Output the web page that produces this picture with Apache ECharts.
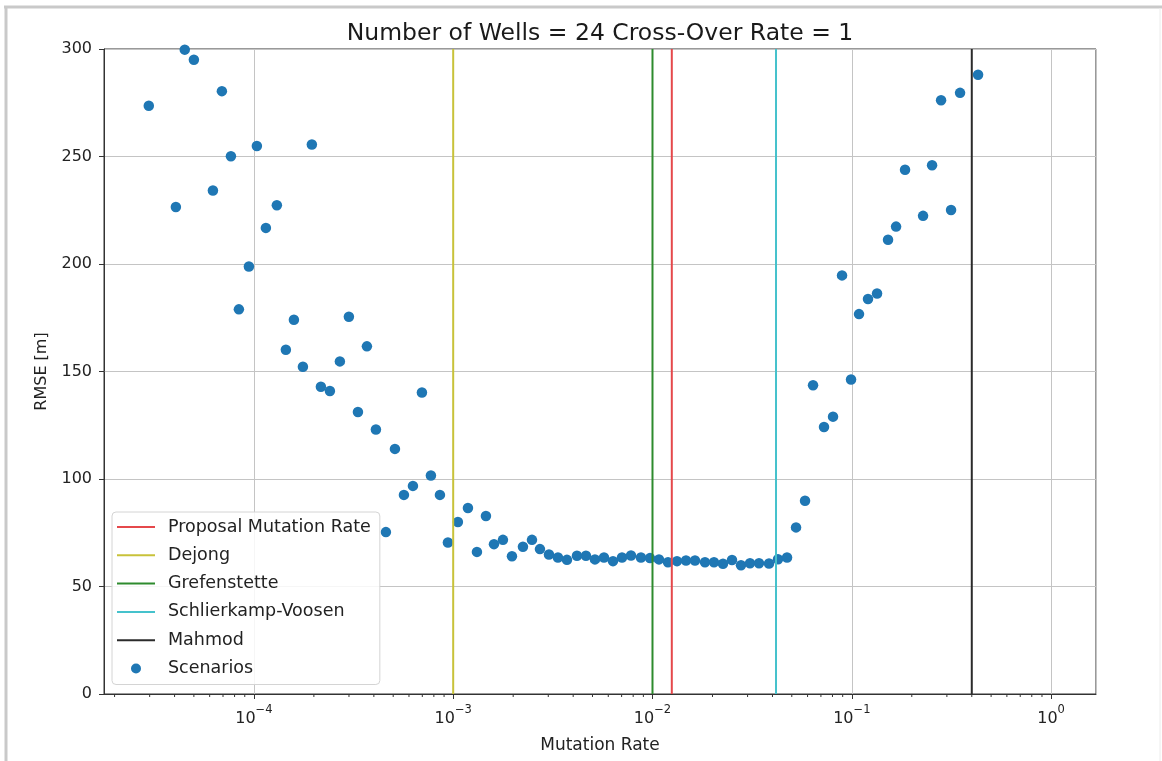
<!DOCTYPE html>
<html>
<head>
<meta charset="utf-8">
<style>html,body{margin:0;padding:0;background:#fff;}#main{width:1162px;height:761px;}</style>
<script src="https://cdn.jsdelivr.net/npm/echarts@6/dist/echarts.min.js"></script>
</head>
<body>
<div id="main"></div>
<script>
// ---- data ----
const titleText = 'Number of Wells = 24 Cross-Over Rate = 1';
const rates = [2.97e-5, 4.06e-5, 4.50e-5, 5.00e-5, 6.23e-5, 6.91e-5, 7.67e-5, 8.41e-5, 9.44e-5, 1.035e-4,
  1.149e-4, 1.304e-4, 1.447e-4, 1.588e-4, 1.762e-4, 1.954e-4, 2.169e-4, 2.407e-4, 2.701e-4, 2.997e-4,
  3.327e-4, 3.691e-4, 4.096e-4, 4.597e-4, 5.102e-4, 5.660e-4, 6.281e-4, 6.970e-4, 7.732e-4, 8.580e-4,
  9.412e-4, 1.056e-3, 1.186e-3, 1.316e-3, 1.460e-3, 1.602e-3, 1.777e-3, 1.972e-3, 2.239e-3, 2.485e-3,
  2.725e-3, 3.024e-3, 3.355e-3, 3.723e-3, 4.179e-3, 4.637e-3, 5.145e-3, 5.710e-3, 6.336e-3, 7.030e-3,
  7.800e-3, 8.754e-3, 9.716e-3, 1.078e-2, 1.196e-2, 1.327e-2, 1.473e-2, 1.634e-2, 1.834e-2, 2.035e-2,
  2.258e-2, 2.506e-2, 2.780e-2, 3.085e-2, 3.424e-2, 3.843e-2, 4.264e-2, 4.732e-2, 5.251e-2, 5.826e-2,
  6.391e-2, 7.255e-2, 8.051e-2, 8.933e-2, 9.913e-2, 0.1087, 0.1206, 0.1339, 0.1520, 0.1668,
  0.1850, 0.2278, 0.2528, 0.2805, 0.3148, 0.3493, 0.4301];
const rmse = [273.6, 226.5, 299.7, 295.0, 234.2, 280.4, 250.1, 178.9, 198.8, 254.9,
  216.8, 227.3, 160.1, 174.1, 152.2, 255.6, 142.9, 140.9, 154.7, 175.5,
  131.2, 161.7, 123.0, 75.3, 114.0, 92.6, 96.8, 140.2, 101.6, 92.6,
  70.5, 80.0, 86.5, 66.1, 82.8, 69.7, 71.7, 64.1, 68.5, 71.7,
  67.4, 64.9, 63.5, 62.4, 64.3, 64.3, 62.6, 63.5, 61.8, 63.5,
  64.4, 63.5, 63.2, 62.6, 61.3, 61.8, 62.1, 62.1, 61.3, 61.3,
  60.6, 62.3, 59.9, 60.8, 60.8, 60.7, 62.7, 63.5, 77.5, 89.9,
  143.6, 124.2, 129.0, 194.7, 146.3, 176.7, 183.7, 186.3, 211.3, 217.4,
  243.8, 222.4, 245.9, 276.2, 225.1, 279.6, 288.0];
const refNames = ['Proposal Mutation Rate', 'Dejong', 'Grefenstette', 'Schlierkamp-Voosen', 'Mahmod'];
const refRates = [0.0125, 0.001, 0.01, 1 / 24, 0.4];
const refColors = ['#e5484b', '#c8c23a', '#2e8b2e', '#45c2cc', '#2b2b2b'];
const yTicks = [0, 50, 100, 150, 200, 250, 300];
const xMin = 1.77e-5, xMax = 1.68;
// minor log ticks (2..9 x 10^k) inside the axis range
const minorTicks = [];
for (let k = -5; k <= 0; k++) for (let m = 2; m <= 9; m++) {
  const v = m * Math.pow(10, k);
  if (v > xMin && v < xMax) minorTicks.push(v);
}

const FONT = 'DejaVu Sans';
const chart = echarts.init(document.getElementById('main'), null, {renderer: 'canvas'});

const lineSeries = refNames.map((n, i) => ({
  name: n, type: 'line', symbol: 'none', z: 4,
  data: [[refRates[i], yTicks[0]], [refRates[i], yTicks[yTicks.length - 1]]],
  lineStyle: {color: refColors[i], width: 2},
  itemStyle: {color: refColors[i]},
  silent: true, animation: false
}));

const supMinus = s => s.replace('-', '\u2212');

chart.setOption({
  animation: false,
  backgroundColor: '#fff',
  textStyle: {fontFamily: FONT},
  title: {
    text: titleText, left: 600, top: 22, textAlign: 'center', padding: 0,
    textStyle: {fontFamily: FONT, fontSize: 23.5, fontWeight: 'normal', color: '#1a1a1a'}
  },
  graphic: [
    {type: 'line', shape: {x1: 4, y1: 7, x2: 1162, y2: 7}, style: {stroke: '#c9c9c9', lineWidth: 3}},
    {type: 'line', shape: {x1: 6, y1: 6, x2: 6, y2: 761}, style: {stroke: '#c9c9c9', lineWidth: 3}},
    {type: 'line', shape: {x1: 1160, y1: 8, x2: 1160, y2: 761}, style: {stroke: '#ececec', lineWidth: 1}}
  ],
  grid: {left: 104, right: 66, top: 49, bottom: 67, show: true, borderColor: '#333', borderWidth: 1, backgroundColor: 'transparent'},
  legend: {
    orient: 'vertical', left: 112, top: 512,
    padding: [6, 9, 7, 5], itemGap: 10.3, itemWidth: 38, itemHeight: 10,
    backgroundColor: 'rgba(255,255,255,0.85)', borderColor: '#d4d4d4', borderWidth: 1, borderRadius: 4,
    textStyle: {fontFamily: FONT, fontSize: 17.5, color: '#222', padding: [0, 0, 0, 8]},
    data: refNames.map(n => ({name: n, icon: 'path://M0,0H38V2H0Z'})).concat([{name: 'Scenarios', icon: 'circle'}])
  },
  xAxis: {
    type: 'log', logBase: 10, min: xMin, max: xMax,
    name: 'Mutation Rate', nameLocation: 'middle', nameGap: 43,
    nameTextStyle: {fontFamily: FONT, fontSize: 17, color: '#222'},
    axisLine: {show: true, lineStyle: {color: '#333', width: 1}},
    axisTick: {show: true, inside: false, length: 5, lineStyle: {color: '#333'}},
    splitLine: {show: true, lineStyle: {color: '#c4c4c4', width: 1}},
    axisLabel: {
      showMinLabel: false, showMaxLabel: false, margin: 10,
      formatter: v => '{b|10}{s|' + supMinus(String(Math.round(Math.log10(v)))) + '}',
      rich: {
        b: {fontFamily: FONT, fontSize: 16, color: '#222', verticalAlign: 'bottom', padding: [7, 0, 0, 0]},
        s: {fontFamily: FONT, fontSize: 11.5, color: '#222', verticalAlign: 'top'}
      }
    }
  },
  yAxis: {
    type: 'value', min: yTicks[0], max: yTicks[yTicks.length - 1], interval: 50,
    name: 'RMSE [m]', nameLocation: 'middle', nameGap: 54,
    nameTextStyle: {fontFamily: FONT, fontSize: 16, color: '#222'},
    axisLine: {show: true, lineStyle: {color: '#333', width: 1}},
    axisTick: {show: true, inside: false, length: 5, lineStyle: {color: '#333'}},
    splitLine: {show: true, lineStyle: {color: '#c4c4c4', width: 1}},
    axisLabel: {fontFamily: FONT, fontSize: 16, color: '#222', margin: 12}
  },
  series: [
    {
      name: 'Scenarios', type: 'scatter', symbol: 'circle', symbolSize: 10.5, z: 3,
      data: rates.map((r, i) => [r, rmse[i]]),
      itemStyle: {color: '#1f77b4', opacity: 1}, silent: true
    },
    ...lineSeries,
    {
      type: 'custom', silent: true, clip: false, z: 5,
      data: minorTicks.map(v => [v, 0]),
      encode: {x: 0, y: 1},
      renderItem: (params, api) => {
        const p = api.coord([api.value(0), 0]);
        return {type: 'line', shape: {x1: p[0], y1: p[1], x2: p[0], y2: p[1] + 3}, style: {stroke: '#333', lineWidth: 1}};
      }
    }
  ]
});
</script>
</body>
</html>
